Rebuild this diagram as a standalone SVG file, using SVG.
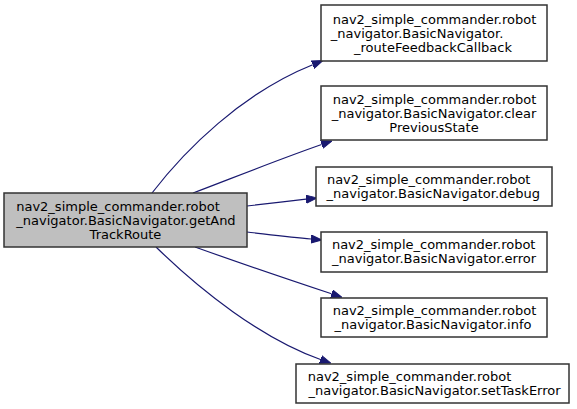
<svg xmlns="http://www.w3.org/2000/svg" width="577" height="409" viewBox="0 0 577 409">
<style>
.box{fill:#ffffff;stroke:#333333;stroke-width:1.5}
.main{fill:#bfbfbf;stroke:#333333;stroke-width:1.5}
text{font-family:"DejaVu Sans",sans-serif;font-size:13px;fill:#000000;text-anchor:middle}
.edge{fill:none;stroke:#191970;stroke-width:1.2}
</style>
<defs>
<marker id="arr" markerUnits="userSpaceOnUse" viewBox="0 -4.5 11 9" markerWidth="11" markerHeight="9" refX="0" refY="0" orient="auto">
<path d="M0,-4 L11,0 L0,4 z" fill="#191970" stroke="#191970" stroke-width="1"/>
</marker>
</defs>
<g id="connectors">
<path class="edge" marker-end="url(#arr)" d="M152,193 C185,150 242,93 312.7,64.7"/>
<path class="edge" marker-end="url(#arr)" d="M193,193 C235,177 280,159 321.6,144.5"/>
<path class="edge" marker-end="url(#arr)" d="M247,206 C265,204 287,201.5 306,199.2"/>
<path class="edge" marker-end="url(#arr)" d="M247,232 C265,234 290,237 311,239"/>
<path class="edge" marker-end="url(#arr)" d="M195,247 C237,262 290,280 331.5,293.8"/>
<path class="edge" marker-end="url(#arr)" d="M156,247 C200,290 262,339 320.5,359.5"/>
</g>
<g id="node-main">
<rect class="main" x="4" y="193" width="243" height="54"/>
<text x="118" y="211">nav2_simple_commander.robot</text>
<text x="126" y="225">_navigator.BasicNavigator.getAnd</text>
<text x="125.5" y="239">TrackRoute</text>
</g>
<g id="node-routeFeedbackCallback">
<rect class="box" x="321" y="5" width="226" height="56"/>
<text x="434.5" y="24">nav2_simple_commander.robot</text>
<text x="417" y="38">_navigator.BasicNavigator.</text>
<text x="433" y="52">_routeFeedbackCallback</text>
</g>
<g id="node-clearPreviousState">
<rect class="box" x="321" y="86" width="226" height="54"/>
<text x="434.5" y="104">nav2_simple_commander.robot</text>
<text x="434" y="118">_navigator.BasicNavigator.clear</text>
<text x="434" y="132">PreviousState</text>
</g>
<g id="node-debug">
<rect class="box" x="316" y="167" width="236" height="39"/>
<text x="428.7" y="183.5">nav2_simple_commander.robot</text>
<text x="433.3" y="197.5">_navigator.BasicNavigator.debug</text>
</g>
<g id="node-error">
<rect class="box" x="321" y="232" width="226" height="40"/>
<text x="433.7" y="249">nav2_simple_commander.robot</text>
<text x="434" y="263">_navigator.BasicNavigator.error</text>
</g>
<g id="node-info">
<rect class="box" x="321" y="298" width="226" height="39"/>
<text x="434.5" y="314.5">nav2_simple_commander.robot</text>
<text x="433" y="328.5">_navigator.BasicNavigator.info</text>
</g>
<g id="node-setTaskError">
<rect class="box" x="296" y="364" width="273" height="39"/>
<text x="409.5" y="380.5">nav2_simple_commander.robot</text>
<text x="434.5" y="394.5">_navigator.BasicNavigator.setTaskError</text>
</g>
</svg>
